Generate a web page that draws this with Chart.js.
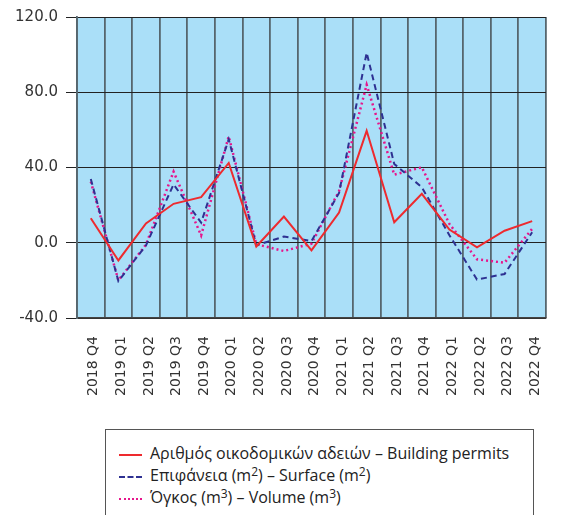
<!DOCTYPE html>
<html>
<head>
<meta charset="utf-8">
<script src="https://cdn.jsdelivr.net/npm/chart.js@4"></script>
<style>
  body { margin: 0; overflow: hidden; background: #fff; }
  #wrap { position: absolute; left: 0; top: 0; width: 567px; height: 420px; }
  #legend {
    position: absolute; left: 105px; top: 429px; width: 427px; height: 100px;
    border: 1px solid #555; font-family: "Open Sans", sans-serif; font-size: 16px; color: #222;
  }
  #legend div { position: absolute; left: 13px; white-space: nowrap; line-height: 20px; }
  #legend sup { font-size: 12px; line-height: 0; vertical-align: 5px; }
  #legend span.s { display: inline-block; width: 23px; margin-right: 8px; vertical-align: middle; }
</style>
</head>
<body>
<div id="wrap"><canvas id="chart"></canvas></div>
<div id="legend"></div>
<script>
const quarters = ["2018 Q4", "2019 Q1", "2019 Q2", "2019 Q3", "2019 Q4", "2020 Q1", "2020 Q2", "2020 Q3", "2020 Q4",
  "2021 Q1", "2021 Q2", "2021 Q3", "2021 Q4", "2022 Q1", "2022 Q2", "2022 Q3", "2022 Q4"];
const permits = [13.0, -9.4, 10.3, 20.7, 24.2, 42.4, -2.0, 13.9, -4.1, 16.0, 59.5, 10.9, 26.0, 7.0, -2.4, 6.4, 11.5];
const surface = [33.9, -20.4, -1.4, 31.0, 10.7, 55.0, -1.4, 3.3, 0.9, 26.5, 101.0, 41.9, 29.5, 4.0, -19.6, -16.6, 5.6];
const volume = [32.5, -20.0, -1.0, 37.8, 3.9, 56.5, -0.8, -4.4, -0.5, 27.5, 84.0, 36.2, 40.1, 10.0, -8.8, -10.6, 7.4];
const yTicks = [-40, 0, 40, 80, 120];

const names = ["Αριθμός οικοδομικών αδειών – Building permits", "Επιφάνεια (m²) – Surface (m²)", "Όγκος (m³) – Volume (m³)"];
const colors = ["#ee2a2e", "#2e3192", "#e6168c"];

const areaFill = {
  id: "areaFill",
  beforeDraw(chart) {
    const a = chart.chartArea, ctx = chart.ctx;
    ctx.save();
    ctx.fillStyle = "#aadff8";
    ctx.fillRect(a.left, a.top, a.right - a.left, a.bottom - a.top);
    ctx.restore();
  }
};

new Chart("chart", {
  type: "line",
  data: {
    labels: quarters,
    datasets: [
      { label: names[0], data: permits, borderColor: colors[0], borderWidth: 2, pointRadius: 0, tension: 0 },
      { label: names[1], data: surface, borderColor: colors[1], borderWidth: 2, borderDash: [6, 4], pointRadius: 0, tension: 0 },
      { label: names[2], data: volume, borderColor: colors[2], borderWidth: 2.5, borderDash: [2, 3], pointRadius: 0, tension: 0 }
    ]
  },
  options: {
    responsive: true,
    maintainAspectRatio: false,
    animation: false,
    layout: { padding: { top: 16, right: 1, left: 0, bottom: 0 } },
    plugins: { legend: { display: false }, tooltip: { enabled: false } },
    scales: {
      x: {
        offset: true,
        afterFit: s => { s.height = 102; },
        grid: { offset: true, color: "#56666e", lineWidth: 1.8, drawTicks: false },
        border: { color: "#444", width: 1.5 },
        ticks: {
          minRotation: 90, maxRotation: 90, padding: 18, autoSkip: false, labelOffset: 3,
          color: "#333", font: { family: "DejaVu Sans", size: 14 }
        }
      },
      y: {
        min: yTicks[0], max: yTicks[yTicks.length - 1],
        afterFit: s => { s.width = 77; },
        afterBuildTicks: s => { s.ticks = yTicks.map(v => ({ value: v })); },
        grid: { color: "#222", lineWidth: 1, tickLength: 11 },
        border: { color: "#56666e", width: 1.8 },
        ticks: {
          padding: 8, color: "#333", font: { family: "DejaVu Sans", size: 15 },
          callback: v => v.toFixed(1)
        }
      }
    }
  },
  plugins: [areaFill]
});

// legend in html, superscripts as <sup> like the original
const legend = document.getElementById("legend");
const styles = ["solid", "dashed", "dotted"];
names.forEach((n, i) => {
  const row = document.createElement("div");
  row.style.top = (13 + i * 22) + "px";
  const s = document.createElement("span");
  s.className = "s";
  s.style.borderTop = "2px " + styles[i] + " " + colors[i];
  row.appendChild(s);
  n.split(/([²³])/).forEach(part => {
    if (part === "²" || part === "³") {
      const sup = document.createElement("sup");
      sup.textContent = part === "²" ? "2" : "3";
      row.appendChild(sup);
    } else if (part) {
      row.appendChild(document.createTextNode(part));
    }
  });
  legend.appendChild(row);
});
</script>
</body>
</html>
